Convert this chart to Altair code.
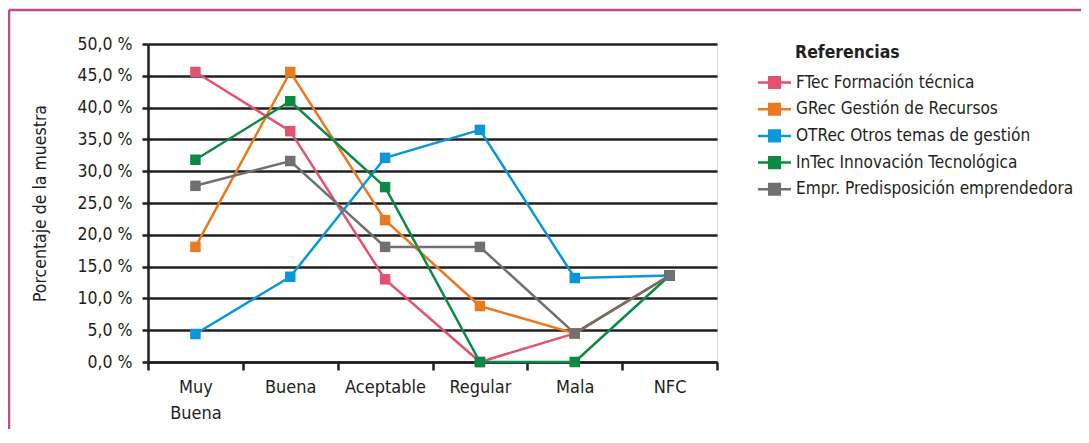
import altair as alt
import pandas as pd

categories = ["Muy Buena", "Buena", "Aceptable", "Regular", "Mala", "NFC"]
series_names = [
    "FTec  Formación técnica",
    "GRec Gestión de Recursos",
    "OTRec Otros temas de gestión",
    "InTec Innovación Tecnológica",
    "Empr. Predisposición emprendedora",
]
ftec = [45.6, 36.3, 13.0, 0.0, 4.5, 13.6]
grec = [18.1, 45.6, 22.3, 8.8, 4.5, 13.6]
otrec = [4.4, 13.4, 32.1, 36.5, 13.2, 13.6]
intec = [31.8, 41.0, 27.5, 0.0, 0.0, 13.6]
empr = [27.7, 31.6, 18.1, 18.1, 4.5, 13.6]
colors = ["#e3536f", "#ea7a20", "#0a97da", "#0a8b45", "#707070"]

rows = []
for si, (name, vals) in enumerate(zip(series_names, [ftec, grec, otrec, intec, empr])):
    for c, v in zip(categories, vals):
        rows.append({"cat": c, "serie": name, "val": v, "order": si})
df = pd.DataFrame(rows)

FONT = "Liberation Sans Narrow, DejaVu Sans Condensed, Roboto Condensed, sans-serif"
TXT = "#231f20"
W, H = 569, 318
PL, PT, PR, PB = 140, 36, 364, 67

legend_symbol = "M-2,0L2,0M-0.64,-0.64L0.64,-0.64L0.64,0.64L-0.64,0.64Z"

x = alt.X("cat:N", sort=categories, title=None,
          scale=alt.Scale(paddingInner=0, paddingOuter=0),
          axis=alt.Axis(labelExpr="datum.value == 'Muy Buena' ? ['Muy', 'Buena'] : datum.value",
                        labelFontSize=18, labelFont=FONT, labelColor=TXT, labelLineHeight=26,
                        labelPadding=8, labelAngle=0,
                        domainColor="#231f20", domainWidth=2.5, tickColor="#231f20",
                        tickWidth=2.5, tickSize=8, tickBand="extent", grid=False))
y = alt.Y("val:Q", title="Porcentaje de la muestra",
          scale=alt.Scale(domain=[0, 50], nice=False),
          axis=alt.Axis(values=list(range(0, 55, 5)),
                        labelExpr="replace(format(datum.value, '.1f'), '.', ',') + ' %'",
                        labelFontSize=17.5, labelFont=FONT, labelColor=TXT, labelPadding=10,
                        titleFont=FONT, titleFontSize=17.5, titleFontWeight="normal",
                        titleColor=TXT, titlePadding=27,
                        domainColor="#231f20", domainWidth=2.5, tickColor="#231f20",
                        tickWidth=2.5, tickSize=6,
                        grid=True, gridColor="#231f20", gridWidth=2.5))
color = alt.Color("serie:N", sort=series_names,
                  scale=alt.Scale(domain=series_names, range=colors),
                  legend=alt.Legend(title=None, orient="none", legendX=617, legendY=29,
                                    symbolType=legend_symbol, symbolSize=272,
                                    symbolStrokeWidth=2.5, symbolFillColor=None,
                                    labelFont=FONT, labelFontSize=17.1, labelColor=TXT,
                                    labelOffset=12, rowPadding=5.7, padding=0,
                                    labelLimit=400))

base = alt.Chart(df).encode(x=x, y=y, color=color, order="order:Q")
lines = alt.Chart(df).mark_line(strokeWidth=2.5).encode(
    x=x, y=y, color=color, detail="serie:N")
points = base.mark_point(shape="square", filled=True, size=110, opacity=1)

legend_title = alt.Chart(pd.DataFrame({"t": ["Referencias"]})).mark_text(
    font=FONT, fontSize=17.5, fontWeight="bold", color=TXT, align="left", baseline="middle"
).encode(text="t:N", x=alt.value(647), y=alt.value(9))

frame_top = alt.Chart(pd.DataFrame({"a": [0]})).mark_rule(
    color="#b5508c", strokeWidth=2.5).encode(
    x=alt.value(-139), x2=alt.value(W + PR), y=alt.value(-34))
frame_left = alt.Chart(pd.DataFrame({"a": [0]})).mark_rule(
    color="#b5508c", strokeWidth=2.5).encode(
    x=alt.value(-139), y=alt.value(-34), y2=alt.value(H + PB))

chart = alt.layer(frame_top, frame_left, lines, points, legend_title).properties(
    width=W, height=H, autosize=alt.AutoSizeParams(type="none"),
    padding={"left": PL, "top": PT, "right": PR, "bottom": PB},
).configure_view(stroke=None).configure(background="white")

chart.save("out.html", embed_options={"renderer": "svg", "actions": False})
